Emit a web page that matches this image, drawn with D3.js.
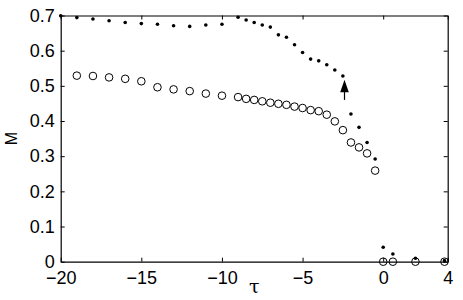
<!DOCTYPE html>
<html>
<head>
<meta charset="utf-8">
<script src="https://cdn.jsdelivr.net/npm/d3@7"></script>
<style>
  html, body { margin: 0; padding: 0; background: #fff; }
  text { font-family: "Liberation Sans", Arial, sans-serif; }
</style>
</head>
<body>
<svg id="chart" width="463" height="300"></svg>
<script>
// filled dots: tau / M
const dotTau = [-20, -19, -18, -17, -16, -15, -14, -13, -12, -11, -10, -9,
  -8.5, -8, -7.5, -7, -6.5, -6, -5.5, -5, -4.5, -4, -3.5, -3, -2.5, -2, -1.5, -1, -0.5,
  0, 0.6, 2, 3.8]
const dotM = [0.699, 0.694, 0.690, 0.685, 0.680, 0.677, 0.675, 0.671, 0.669, 0.673, 0.675, 0.695,
  0.687, 0.680, 0.673, 0.667, 0.645, 0.638, 0.617, 0.595, 0.576, 0.571, 0.560, 0.545, 0.528, 0.420, 0.382, 0.339, 0.292,
  0.041, 0.022, 0.010, 0.003]

// open circles: tau / M
const ringTau = [-19, -18, -17, -16, -15, -14, -13, -12, -11, -10, -9,
  -8.5, -8, -7.5, -7, -6.5, -6, -5.5, -5, -4.5, -4, -3.5, -3, -2.5, -2, -1.5, -1, -0.5,
  0, 0.6, 2, 3.8]
const ringM = [0.529, 0.528, 0.524, 0.520, 0.513, 0.496, 0.490, 0.485, 0.478, 0.472, 0.468,
  0.463, 0.460, 0.456, 0.452, 0.449, 0.446, 0.441, 0.437, 0.431, 0.428, 0.418, 0.399, 0.374, 0.339, 0.325, 0.308, 0.259,
  0, 0, 0, 0]

const xTicks = [-20, -15, -10, -5, 0, 4]
const yTicks = [0, 0.1, 0.2, 0.3, 0.4, 0.5, 0.6, 0.7]

// arrow annotation (tau, from M, to M)
const arrowTau = -2.4
const arrowM = [0.46, 0.517]

const svg = d3.select("#chart")
const box = { left: 60.7, right: 447.7, top: 15.5, bottom: 261.7 }

const x = d3.scaleLinear().domain([-20, 4]).range([box.left, box.right])
const y = d3.scaleLinear().domain([0, 0.7]).range([box.bottom, box.top])

const fmtY = d => d === 0 ? "0" : d3.format(".1f")(d)
const fmtX = d => d < 0 ? "\u2212" + Math.abs(d) : String(d)

// axes, ticks inside like matlab
svg.append("g")
  .attr("transform", `translate(0,${box.bottom})`)
  .call(d3.axisBottom(x).tickValues(xTicks).tickSizeInner(-4).tickSizeOuter(0).tickPadding(10).tickFormat(fmtX))
svg.append("g")
  .attr("transform", `translate(0,${box.top})`)
  .call(d3.axisTop(x).tickValues(xTicks).tickSizeInner(-4).tickSizeOuter(0).tickFormat(""))
svg.append("g")
  .attr("transform", `translate(${box.left},0)`)
  .call(d3.axisLeft(y).tickValues(yTicks).tickSizeInner(-4).tickSizeOuter(0).tickPadding(6).tickFormat(fmtY))
svg.append("g")
  .attr("transform", `translate(${box.right},0)`)
  .call(d3.axisRight(y).tickValues(yTicks).tickSizeInner(-4).tickSizeOuter(0).tickFormat(""))

svg.selectAll(".domain").attr("stroke", "#000").attr("stroke-width", 1.2)
svg.selectAll(".tick line").attr("stroke", "#000")
svg.selectAll(".tick text")
  .attr("fill", "#000")
  .style("font-size", "18px")

// open circles
svg.append("g")
  .selectAll("circle")
  .data(ringTau)
  .join("circle")
  .attr("cx", d => x(d))
  .attr("cy", (d, i) => y(ringM[i]))
  .attr("r", 3.8)
  .attr("fill", "none")
  .attr("stroke", "#000")
  .attr("stroke-width", 1)

// filled dots
svg.append("g")
  .selectAll("circle")
  .data(dotTau)
  .join("circle")
  .attr("cx", d => x(d))
  .attr("cy", (d, i) => y(dotM[i]))
  .attr("r", 1.8)
  .attr("fill", "#000")

// arrow
const ax = x(arrowTau), ay0 = y(arrowM[0]), ay1 = y(arrowM[1])
svg.append("line")
  .attr("x1", ax).attr("x2", ax)
  .attr("y1", ay0).attr("y2", ay1 + 8)
  .attr("stroke", "#000").attr("stroke-width", 1.2)
svg.append("path")
  .attr("d", `M${ax},${ay1} L${ax - 4.3},${ay1 + 12.5} L${ax + 4.3},${ay1 + 12.5} Z`)
  .attr("fill", "#000")

// labels
svg.append("text")
  .attr("transform", `translate(17,${(box.top + box.bottom) / 2}) rotate(-90)`)
  .attr("text-anchor", "middle")
  .style("font-size", "16px")
  .text("M")

svg.append("text")
  .attr("x", (box.left + box.right) / 2)
  .attr("y", 293)
  .attr("text-anchor", "middle")
  .style("font-family", "'DejaVu Serif', serif")
  .style("font-size", "19px")
  .text("\u03c4")
</script>
</body>
</html>
